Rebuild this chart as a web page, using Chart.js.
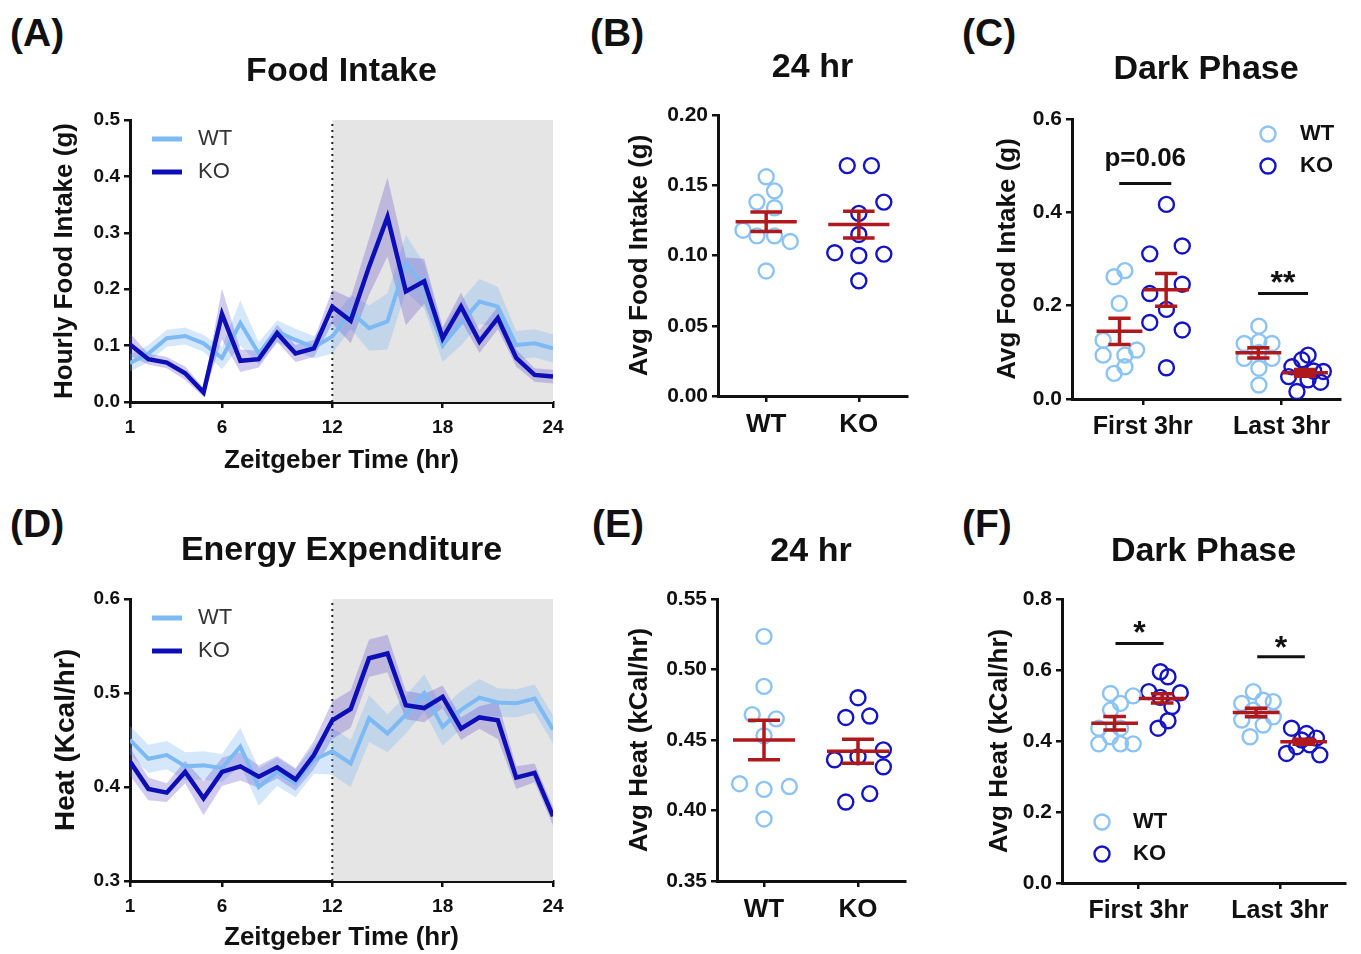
<!DOCTYPE html>
<html>
<head>
<meta charset="utf-8">
<script src="https://cdn.jsdelivr.net/npm/chart.js@4"></script>
<style>
  body { margin: 0; width: 1361px; height: 954px; overflow: hidden; position: relative; background: #fff;
         font-family: "Liberation Sans", Arial, sans-serif; }
  canvas { position: absolute; }
  .tag { position: absolute; font-weight: bold; font-size: 39px; line-height: 39px; color: #111; }
</style>
</head>
<body>
<div class="tag" style="left:10px;top:13px">(A)</div>
<div class="tag" style="left:590px;top:13px">(B)</div>
<div class="tag" style="left:962px;top:13px">(C)</div>
<div class="tag" style="left:10px;top:504px">(D)</div>
<div class="tag" style="left:592px;top:504px">(E)</div>
<div class="tag" style="left:962px;top:504px">(F)</div>

<canvas id="cA" width="535" height="450" style="left:45px;top:40px"></canvas>
<canvas id="cB" width="302" height="400" style="left:620px;top:40px"></canvas>
<canvas id="cC" width="367" height="405" style="left:988px;top:40px"></canvas>
<canvas id="cD" width="535" height="434" style="left:45px;top:520px"></canvas>
<canvas id="cE" width="300" height="410" style="left:620px;top:520px"></canvas>
<canvas id="cF" width="378" height="410" style="left:980px;top:520px"></canvas>

<script>
// ---- データ ----
const hours = [1,2,3,4,5,6,7,8,9,10,11,12,13,14,15,16,17,18,19,20,21,22,23,24];
const timeTicks = [1, 6, 12, 18, 24];

// (A) 時間ごとの摂食量
const foodWT    = [0.069,0.086,0.113,0.117,0.104,0.078,0.140,0.086,0.125,0.110,0.097,0.116,0.160,0.131,0.143,0.246,0.205,0.101,0.140,0.178,0.169,0.101,0.104,0.095];
const foodWTsem = [0.015,0.015,0.015,0.015,0.015,0.020,0.040,0.020,0.020,0.020,0.020,0.030,0.030,0.040,0.050,0.050,0.040,0.030,0.040,0.040,0.035,0.025,0.025,0.025];
const foodKO    = [0.102,0.076,0.070,0.051,0.017,0.156,0.073,0.076,0.122,0.086,0.095,0.169,0.144,0.240,0.328,0.196,0.214,0.113,0.169,0.107,0.149,0.078,0.048,0.045];
const foodKOsem = [0.020,0.010,0.010,0.012,0.008,0.045,0.020,0.015,0.015,0.015,0.015,0.030,0.040,0.050,0.070,0.060,0.040,0.020,0.025,0.020,0.020,0.015,0.012,0.012];
const foodTicks = [0, 0.1, 0.2, 0.3, 0.4, 0.5];

// (D) 時間ごとの熱産生
const heatWT    = [0.450,0.430,0.434,0.422,0.423,0.420,0.443,0.400,0.416,0.404,0.429,0.438,0.425,0.473,0.457,0.477,0.500,0.464,0.482,0.495,0.490,0.489,0.494,0.461];
const heatWTsem = [0.015,0.015,0.015,0.015,0.015,0.015,0.020,0.020,0.015,0.015,0.015,0.025,0.025,0.025,0.020,0.020,0.020,0.020,0.020,0.020,0.015,0.015,0.015,0.015];
const heatKO    = [0.427,0.398,0.394,0.416,0.388,0.416,0.422,0.411,0.421,0.408,0.434,0.471,0.483,0.537,0.542,0.487,0.484,0.496,0.462,0.474,0.471,0.410,0.415,0.369];
const heatKOsem = [0.015,0.012,0.010,0.012,0.018,0.015,0.015,0.012,0.012,0.012,0.015,0.020,0.020,0.020,0.020,0.015,0.015,0.012,0.012,0.012,0.020,0.012,0.010,0.010];
const heatTicks = [0.3, 0.4, 0.5, 0.6];

// (B) 24時間平均摂食量（個体ごと）
const genotypes = ['WT', 'KO'];
const bWT  = [0.156,0.146,0.138,0.134,0.118,0.114,0.114,0.110,0.089];
const bWTx = [0,0.09,-0.1,0.09,-0.25,-0.1,0.09,0.26,0];
const bKO  = [0.164,0.164,0.138,0.130,0.115,0.102,0.100,0.101,0.082];
const bKOx = [-0.125,0.136,0.27,0,0,-0.26,0,0.27,0];
const bMean = [0.124, 0.122];
const bSem  = [0.007, 0.0095];
const bTicks = [0, 0.05, 0.10, 0.15, 0.20];

// (E) 24時間平均熱産生
const eWT  = [0.5235,0.488,0.468,0.465,0.453,0.419,0.415,0.417,0.394];
const eWTx = [0,0,-0.125,0.13,0,-0.26,0,0.27,0];
const eKO  = [0.480,0.466,0.467,0.443,0.436,0.438,0.431,0.412,0.406];
const eKOx = [0,-0.13,0.125,0.27,-0.25,0,0.27,0.125,-0.13];
const eMean = [0.450, 0.442];
const eSem  = [0.014, 0.0085];
const eTicks = [0.35, 0.40, 0.45, 0.50, 0.55];

// (C) 暗期の摂食量: 最初の3時間 / 最後の3時間
const phases = ['First 3hr', 'Last 3hr'];
const cFirstWT  = [0.275,0.262,0.205,0.126,0.094,0.094,0.105,0.069,0.055];
const cFirstWTx = [-0.129,-0.207,-0.17,-0.286,-0.286,-0.129,-0.045,-0.129,-0.207];
const cFirstKO  = [0.417,0.311,0.328,0.226,0.246,0.192,0.164,0.148,0.067];
const cFirstKOx = [0.17,0.05,0.284,0.05,0.284,0.17,0.05,0.284,0.17];
const cLastWT   = [0.156,0.119,0.119,0.123,0.100,0.087,0.087,0.066,0.030];
const cLastWTx  = [-0.164,-0.27,-0.07,-0.164,-0.164,-0.27,-0.07,-0.164,-0.164];
const cLastKO   = [0.094,0.084,0.069,0.059,0.048,0.041,0.016,0.060,0.036];
const cLastKOx  = [0.19,0.145,0.074,0.3,0.05,0.19,0.11,0.23,0.28];
const cMean = [0.145, 0.234, 0.099, 0.056];   // WT first, KO first, WT last, KO last
const cSem  = [0.028, 0.035, 0.011, 0.007];
const cTicks = [0, 0.2, 0.4, 0.6];

// (F) 暗期の熱産生
const fFirstWT  = [0.534,0.527,0.506,0.487,0.436,0.436,0.392,0.412,0.392,0.392];
const fFirstWTx = [-0.197,-0.037,-0.127,-0.197,-0.28,-0.127,-0.28,-0.197,-0.127,-0.037];
const fFirstKO  = [0.595,0.581,0.539,0.536,0.523,0.497,0.457,0.436];
const fFirstKOx = [0.155,0.209,0.073,0.296,0.155,0.237,0.209,0.139];
const fLastWT   = [0.539,0.506,0.511,0.487,0.459,0.468,0.445,0.412,0.515];
const fLastWTx  = [-0.188,-0.27,-0.047,-0.188,-0.27,-0.047,-0.118,-0.211,-0.118];
const fLastKO   = [0.436,0.421,0.403,0.408,0.365,0.361,0.384,0.389];
const fLastKOx  = [0.082,0.188,0.153,0.258,0.047,0.282,0.118,0.211];
const fMean = [0.450, 0.520, 0.480, 0.398];
const fSem  = [0.019, 0.013, 0.012, 0.007];
const fTicks = [0, 0.2, 0.4, 0.6, 0.8];

// ---- 色 ----
const INK = '#111';
const WT_LINE = '#7db9f3';
const KO_LINE = '#0e0eb6';
const WT_DOT = '#8cc3f5';
const KO_DOT = '#1414c4';
const WT_BAND = 'rgba(125,185,243,0.32)';
const KO_BAND = 'rgba(90,70,200,0.28)';
const RED = '#b0191c';
const SHADE = '#e5e5e5';

Chart.defaults.font.family = '"Liberation Sans", Arial, sans-serif';
Chart.defaults.color = INK;
Chart.defaults.animation = false;
Chart.defaults.plugins.legend.display = false;
Chart.defaults.plugins.tooltip.enabled = false;

// 有意差の文字（p値・アスタリスク）を描くプラグイン
const sigText = {
  id: 'sigText',
  afterDatasetsDraw(chart, args, o) {
    if (!o.items) return;
    const { ctx, scales } = chart;
    ctx.save();
    ctx.fillStyle = INK;
    ctx.textAlign = 'center';
    ctx.textBaseline = 'middle';
    o.items.forEach(it => {
      ctx.font = it.font;
      ctx.fillText(it.text, scales.x.getPixelForValue(it.x), scales.y.getPixelForValue(it.y));
    });
    ctx.restore();
  }
};

// プロット内の凡例
const innerLegend = {
  id: 'innerLegend',
  afterDraw(chart, args, o) {
    if (!o.items) return;
    const { ctx, chartArea: a } = chart;
    ctx.save();
    o.items.forEach((it, i) => {
      const cy = a.top + o.y + i * o.gap;
      const sx = a.left + o.x;
      ctx.strokeStyle = it.color;
      ctx.beginPath();
      if (it.kind === 'line') {
        ctx.lineWidth = 5;
        ctx.moveTo(sx, cy);
        ctx.lineTo(sx + 30, cy);
      } else {
        ctx.lineWidth = 2.4;
        ctx.arc(sx, cy, 7.5, 0, Math.PI * 2);
      }
      ctx.stroke();
      ctx.fillStyle = o.color;
      ctx.font = o.font;
      ctx.textBaseline = 'middle';
      ctx.fillText(it.text, a.left + o.textX, cy);
    });
    ctx.restore();
  }
};
Chart.register(sigText, innerLegend);

// タイトル位置を合わせる
function titleOpt(text, size, centerY, canvasTop, plotTop) {
  const pt = centerY - canvasTop - size / 2;
  return { display: true, text: text, fullSize: false, color: INK,
           font: { size: size, weight: 'bold', lineHeight: 1 },
           padding: { top: pt, bottom: plotTop - canvasTop - pt - size } };
}

function yAxis(min, max, ticks, dec, title, titleSize, width, tickSize) {
  return {
    type: 'linear', min: min, max: max,
    afterBuildTicks: s => { s.ticks = ticks.map(v => ({ value: v })); },
    afterFit: s => { s.width = width; },
    ticks: { callback: v => Number(v).toFixed(dec), font: { size: tickSize, weight: 'bold' }, color: INK, padding: 4 },
    grid: { drawOnChartArea: false, drawTicks: true, tickLength: 6, color: INK, lineWidth: 2.5 },
    border: { display: true, color: INK, width: 3 },
    title: { display: true, text: title, color: INK, font: { size: titleSize, weight: 'bold' }, padding: { top: 4, bottom: 0 } }
  };
}

function xAxis(min, max, ticks, labels, height, tickSize, pad, title) {
  const ax = {
    type: 'linear', min: min, max: max,
    afterBuildTicks: s => { s.ticks = ticks.map(v => ({ value: v })); },
    afterFit: s => { s.height = height; },
    ticks: { autoSkip: false, maxRotation: 0,
             callback: v => labels ? labels[ticks.indexOf(v)] : String(v),
             font: { size: tickSize, weight: 'bold' }, color: INK, padding: pad },
    grid: { drawOnChartArea: false, drawTicks: true, tickLength: 6, color: INK, lineWidth: 2.5 },
    border: { display: true, color: INK, width: 3 }
  };
  if (title) {
    ax.title = { display: true, text: title.text, color: INK, font: { size: 26, weight: 'bold' }, padding: { top: 0, bottom: title.pb } };
  }
  return ax;
}

// 平均±SEM のエラーバー（null で線を区切る）
function errBars(c, m, s, hw, cw) {
  return [
    { x: c - hw, y: m }, { x: c + hw, y: m }, { x: c, y: null },
    { x: c - cw, y: m + s }, { x: c + cw, y: m + s }, { x: c, y: null },
    { x: c - cw, y: m - s }, { x: c + cw, y: m - s }, { x: c, y: null },
    { x: c, y: m + s }, { x: c, y: m - s }
  ];
}

function errDataset(pts) {
  return { type: 'line', data: pts, borderColor: RED, borderWidth: 3.5, pointRadius: 0, spanGaps: false, order: 0 };
}

function dotDataset(ys, xs, center, color) {
  return { type: 'scatter', data: ys.map((v, i) => ({ x: center + xs[i], y: v })),
           pointStyle: 'circle', pointRadius: 7.5, borderColor: color, backgroundColor: 'rgba(255,255,255,0)',
           borderWidth: 2.4, order: 1 };
}

function sigLine(x1, x2, y) {
  return { type: 'line', data: [{ x: x1, y: y }, { x: x2, y: y }], borderColor: INK, borderWidth: 3, pointRadius: 0, order: 0 };
}

// ---- (A)(D) 時系列 ----
function timeChart(id, wt, wtSem, ko, koSem, yMin, yMax, yTicks, title, titleY, canvasTop, plotTop, xAxisH, xTitlePb, yTitle, yTitleSize) {
  const pts = arr => hours.map((h, i) => ({ x: h, y: arr[i] }));
  const band = (arr, sem, sign) => hours.map((h, i) => ({ x: h, y: arr[i] + sign * sem[i] }));
  new Chart(document.getElementById(id), {
    type: 'line',
    data: {
      datasets: [
        { data: pts(ko), borderColor: KO_LINE, borderWidth: 4.5, pointRadius: 0, tension: 0, order: 0 },
        { data: pts(wt), borderColor: WT_LINE, borderWidth: 4, pointRadius: 0, tension: 0, order: 1 },
        { data: band(ko, koSem, -1), borderWidth: 0, pointRadius: 0, fill: false, order: 2 },
        { data: band(ko, koSem, 1), borderWidth: 0, pointRadius: 0, fill: '-1', backgroundColor: KO_BAND, order: 2 },
        { data: band(wt, wtSem, -1), borderWidth: 0, pointRadius: 0, fill: false, order: 3 },
        { data: band(wt, wtSem, 1), borderWidth: 0, pointRadius: 0, fill: '-1', backgroundColor: WT_BAND, order: 3 },
        // 暗期開始の点線
        { data: [{ x: 12, y: yMin }, { x: 12, y: yMax }], borderColor: '#222', borderWidth: 2, borderDash: [2, 4], pointRadius: 0, order: 4 },
        // 暗期（12〜24時）の灰色領域
        { data: [{ x: 12, y: yMax }, { x: 24, y: yMax }], borderWidth: 0, pointRadius: 0, fill: 'start', backgroundColor: SHADE, order: 5 }
      ]
    },
    options: {
      responsive: false,
      layout: { padding: { left: 0, right: 27, top: 0, bottom: 0 } },
      scales: {
        x: xAxis(1, 24, timeTicks, null, xAxisH, 19, 8, { text: 'Zeitgeber Time (hr)', pb: xTitlePb }),
        y: yAxis(yMin, yMax, yTicks, 1, yTitle, yTitleSize, 85, 19)
      },
      plugins: {
        title: titleOpt(title, 34, titleY, canvasTop, plotTop),
        innerLegend: { x: 22, y: 19, gap: 33, textX: 68, font: '22px "Liberation Sans", Arial, sans-serif', color: '#333',
                       items: [{ text: 'WT', color: WT_LINE, kind: 'line' }, { text: 'KO', color: KO_LINE, kind: 'line' }] }
      }
    }
  });
}

timeChart('cA', foodWT, foodWTsem, foodKO, foodKOsem, 0, 0.5, foodTicks, 'Food Intake', 72, 40, 120, 88, 14, 'Hourly Food Intake (g)', 26);
timeChart('cD', heatWT, heatWTsem, heatKO, heatKOsem, 0.3, 0.6, heatTicks, 'Energy Expenditure', 551, 520, 599, 73, 1, 'Heat (Kcal/hr)', 28);

// ---- (B)(E) 24時間平均 ----
function avgChart(id, wt, wtx, ko, kox, mean, sem, yMin, yMax, yTicks, dec, xMin, xMax, canvasTop, plotTop, titleY, xAxisH, pad, yTitle, yw) {
  new Chart(document.getElementById(id), {
    type: 'scatter',
    data: {
      datasets: [
        errDataset(errBars(1, mean[0], sem[0], 0.33, 0.17)),
        errDataset(errBars(2, mean[1], sem[1], 0.33, 0.17)),
        dotDataset(wt, wtx, 1, WT_DOT),
        dotDataset(ko, kox, 2, KO_DOT)
      ]
    },
    options: {
      responsive: false,
      layout: { padding: { left: 0, right: 15, top: 0, bottom: 0 } },
      scales: {
        x: xAxis(xMin, xMax, [1, 2], genotypes, xAxisH, 26, 7, null),
        y: yAxis(yMin, yMax, yTicks, dec, yTitle, 26, yw, 21)
      },
      plugins: { title: titleOpt('24 hr', 34, titleY, canvasTop, plotTop) }
    }
  });
}

avgChart('cB', bWT, bWTx, bKO, bKOx, bMean, bSem, 0, 0.20, bTicks, 2, 0.48, 2.52, 40, 115, 68, 44, 8, 'Avg Food Intake (g)', 98);
avgChart('cE', eWT, eWTx, eKO, eKOx, eMean, eSem, 0.35, 0.55, eTicks, 2, 0.5, 2.5, 520, 599, 552, 49, 7, 'Avg Heat (kCal/hr)', 97);

// ---- (C)(F) 暗期 ----
function darkChart(id, sets, mean, sem, yMax, yTicks, xMin, xMax, canvasTop, plotTop, titleY, xAxisH, pad, yTitle, yw, sig, legend, rightPad) {
  const off = 0.168;
  new Chart(document.getElementById(id), {
    type: 'scatter',
    data: {
      datasets: [
        errDataset(errBars(1 - off, mean[0], sem[0], 0.165, 0.08)),
        errDataset(errBars(1 + off, mean[1], sem[1], 0.165, 0.08)),
        errDataset(errBars(2 - off, mean[2], sem[2], 0.165, 0.08)),
        errDataset(errBars(2 + off, mean[3], sem[3], 0.165, 0.08)),
        sigLine(sig[0].g + sig[0].from, sig[0].g + sig[0].to, sig[0].y),
        sigLine(sig[1].g + sig[1].from, sig[1].g + sig[1].to, sig[1].y),
        dotDataset(sets[0], sets[1], 1, WT_DOT),
        dotDataset(sets[2], sets[3], 1, KO_DOT),
        dotDataset(sets[4], sets[5], 2, WT_DOT),
        dotDataset(sets[6], sets[7], 2, KO_DOT)
      ]
    },
    options: {
      responsive: false,
      layout: { padding: { left: 0, right: rightPad, top: 0, bottom: 0 } },
      scales: {
        x: xAxis(xMin, xMax, [1, 2], phases, xAxisH, 25, 7, null),
        y: yAxis(0, yMax, yTicks, 1, yTitle, 26, yw, 21)
      },
      plugins: {
        title: titleOpt('Dark Phase', 34, titleY, canvasTop, plotTop),
        sigText: { items: sig.map(s => ({ text: s.text, x: s.g + (s.from + s.to) / 2, y: s.ty,
                                           font: 'bold ' + s.size + 'px "Liberation Sans", Arial, sans-serif' })) },
        innerLegend: Object.assign({ gap: 32, font: 'bold 22px "Liberation Sans", Arial, sans-serif', color: INK,
                       items: [{ text: 'WT', color: WT_DOT, kind: 'circle' }, { text: 'KO', color: KO_DOT, kind: 'circle' }] }, legend)
      }
    }
  });
}

darkChart('cC',
  [cFirstWT, cFirstWTx, cFirstKO, cFirstKOx, cLastWT, cLastWTx, cLastKO, cLastKOx],
  cMean, cSem, 0.6, cTicks, 0.49, 2.42, 40, 119, 70, 46, 9, 'Avg Food Intake (g)', 84,
  [{ g: 1, from: -0.17, to: 0.205, y: 0.462, text: 'p=0.06', ty: 0.514, size: 26 },
   { g: 2, from: -0.17, to: 0.19, y: 0.226, text: '**', ty: 0.245, size: 32 }],
  { x: 196, y: 15, textX: 228 }, 15);

darkChart('cF',
  [fFirstWT, fFirstWTx, fFirstKO, fFirstKOx, fLastWT, fLastWTx, fLastKO, fLastKOx],
  fMean, fSem, 0.8, fTicks, 0.46, 2.46, 520, 599, 552, 47, 7, 'Avg Heat (kCal/hr)', 82,
  [{ g: 1, from: -0.162, to: 0.178, y: 0.675, text: '*', ty: 0.70, size: 32 },
   { g: 2, from: -0.16, to: 0.176, y: 0.637, text: '*', ty: 0.66, size: 32 }],
  { x: 40, y: 223, textX: 71 }, 13);
</script>
</body>
</html>
